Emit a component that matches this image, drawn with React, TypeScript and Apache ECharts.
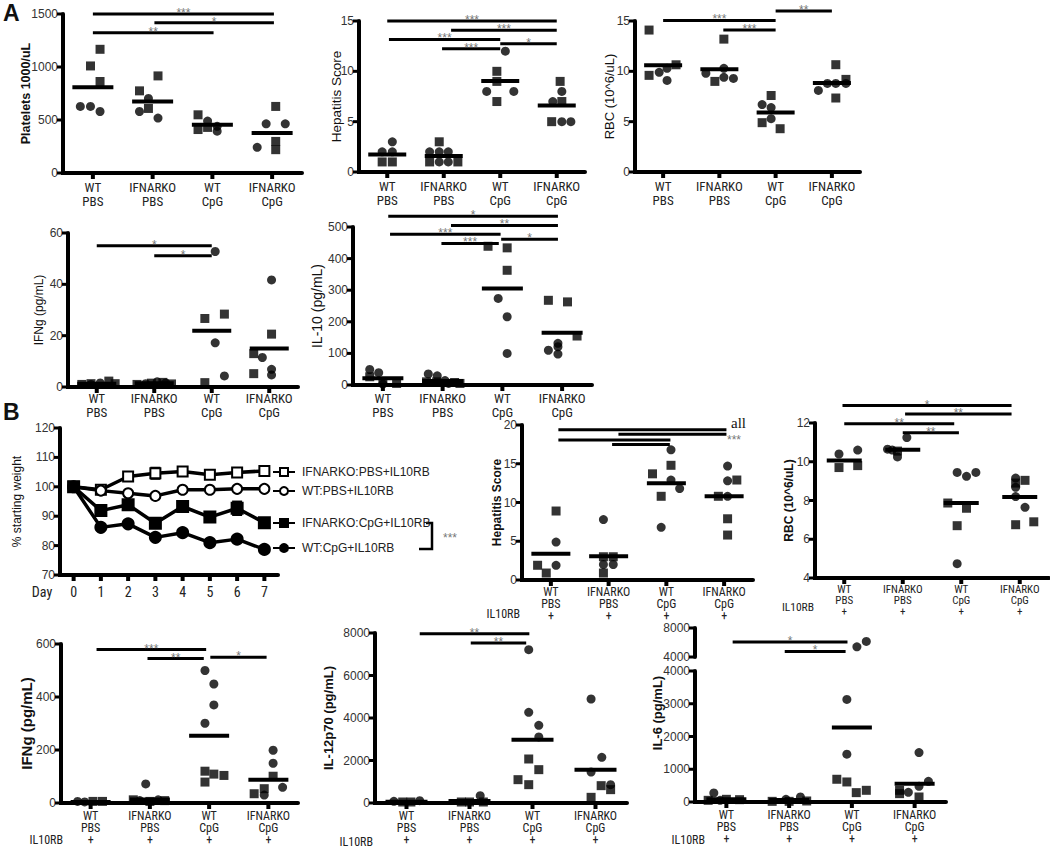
import React, { useEffect, useRef } from "react";
import * as echarts from "echarts";

// ---------------- categories / tick labels ----------------
const groupLabels = ["WT\nPBS", "IFNARKO\nPBS", "WT\nCpG", "IFNARKO\nCpG"];
const groupLabelsRB = ["WT\nPBS\n+", "IFNARKO\nPBS\n+", "WT\nCpG\n+", "IFNARKO\nCpG\n+"];
const dayLabels = ["0", "1", "2", "3", "4", "5", "6", "7"];

// ---------------- data: [group, jitter, value] ----------------
// A: Platelets
const plateletsCircles = [[0, -0.21, 628], [0, -0.04, 628], [0, 0.12, 580], [1, -0.07, 703], [1, -0.22, 580], [1, 0.09, 518], [2, -0.08, 490], [2, 0.08, 440], [2, 0.08, 395], [3, -0.1, 464], [3, 0.22, 464], [3, -0.25, 242]];
const plateletsSquares = [[0, 0.12, 1167], [0, -0.04, 1010], [0, 0.12, 863], [1, 0.09, 916], [1, -0.22, 775], [1, -0.07, 609], [2, -0.24, 549], [2, -0.24, 410], [2, -0.08, 430], [3, 0.06, 628], [3, 0.06, 298], [3, 0.06, 220]];
const plateletsMeans = [810, 675, 455, 377];
const plateletsSig = [[0, 3.03, 1500, "***"], [1.03, 3.03, 1418, "*"], [0, 2.02, 1324, "**"]];

// A: Hepatitis score
const hepCircles = [[0, 0.09, 3], [0, -0.09, 2], [0, 0.09, 2], [1, -0.25, 2], [1, -0.08, 2], [1, 0.08, 2], [1, -0.08, 1], [1, 0.08, 1], [2, 0.09, 12], [2, -0.24, 8], [2, 0.24, 8], [3, 0.09, 8], [3, -0.07, 7], [3, 0.09, 5], [3, 0.25, 5]];
const hepSquares = [[0, -0.09, 1], [0, 0.09, 1], [1, -0.08, 3], [1, -0.25, 1], [1, 0.25, 1], [2, -0.06, 10], [2, -0.06, 9], [2, -0.06, 7], [3, 0.06, 9], [3, 0.09, 7], [3, -0.09, 5]];
const hepMeans = [1.75, 1.6, 9.05, 6.6];
const hepSig = [[0, 3, 15, "***"], [1.13, 3, 14.07, "***"], [0.03, 2, 13.17, "***"], [2, 3, 12.74, "*"], [0.97, 2, 12.25, "***"]];

// A: RBC
const rbcCircles = [[0, -0.07, 9.9], [0, 0.07, 10.3], [0, 0.07, 9.1], [1, -0.24, 9.8], [1, 0.08, 10.3], [1, 0.08, 9.4], [1, 0.25, 9.3], [2, -0.24, 6.7], [2, -0.08, 6.4], [2, -0.08, 5.3], [3, -0.24, 8.1], [3, -0.08, 8.8], [3, 0.07, 8.8], [3, 0.25, 8.8]];
const rbcSquares = [[0, -0.25, 14.1], [0, -0.25, 9.6], [0, 0.23, 10.65], [1, 0.08, 13.2], [1, -0.08, 9.0], [2, -0.08, 7.6], [2, -0.24, 4.9], [2, 0.08, 4.3], [3, 0.07, 10.66], [3, 0.25, 9.2], [3, 0.07, 7.35]];
const rbcMeans = [10.6, 10.2, 5.9, 8.85];
const rbcSig = [[0, 2, 15.06, "***"], [1.07, 2, 14.1, "***"], [2, 3, 16, "**"]];

// A: IFNg
const ifngCircles = [[0, 0.06, 1.6], [0, -0.1, 1.0], [1, -0.15, 1.3], [1, 0.05, 2.0], [1, 0.2, 1.6], [2, 0.06, 52.8], [2, 0.06, 17.2], [2, 0.22, 4.3], [3, 0.04, 41.7], [3, -0.12, 11.5], [3, 0.04, 6.9], [3, 0.04, 4.7]];
const ifngSquares = [[0, -0.26, 1.0], [0, -0.1, 1.3], [0, 0.21, 2.3], [0, 0.32, 1.3], [1, -0.3, 1.0], [1, -0.05, 1.5], [1, 0.15, 1.8], [1, 0.3, 1.2], [2, -0.12, 26.7], [2, 0.22, 28.4], [2, -0.12, 1.7], [3, 0.04, 20.6], [3, -0.27, 13.0], [3, -0.27, 5.2]];
const ifngMeans = [1.3, 1.5, 21.9, 15.0];
const ifngSig = [[0, 2, 55, "*"], [1, 2, 51.1, "*"]];

// A: IL-10
const il10Circles = [[0, -0.22, 49], [0, -0.07, 39], [0, 0, 3], [1, -0.24, 35], [1, -0.09, 29], [1, 0.04, 14], [1, 0.1, 5], [2, -0.07, 274], [2, 0.08, 216], [2, 0.08, 100], [3, -0.23, 110], [3, -0.07, 132], [3, -0.07, 121], [3, -0.07, 98]];
const il10Squares = [[0, -0.22, 26], [0, 0, 8], [0, 0.23, 5], [1, -0.27, 10], [1, -0.1, 10], [1, 0.2, 8], [1, 0.29, 5], [2, -0.24, 439], [2, 0.08, 434], [2, 0.08, 363], [3, -0.23, 268], [3, 0.09, 263], [3, 0.25, 155]];
const il10Means = [21, 12.6, 305, 165];
const il10Sig = [[0.09, 2.93, 534, "*"], [1.14, 2.93, 505, "**"], [0.12, 1.97, 477, "***"], [1.98, 2.93, 461, "*"], [0.98, 1.94, 448, "***"]];

// B: weight over days
const weightNames = ["IFNARKO:PBS+IL10RB", "WT:PBS+IL10RB", "IFNARKO:CpG+IL10RB", "WT:CpG+IL10RB"];
const ifnarkoPbsWeight = [100, 99.0, 103.5, 104.6, 105.2, 104.1, 104.9, 105.4];
const wtPbsWeight = [100, 98.7, 97.8, 96.9, 99.0, 99.0, 99.3, 99.3];
const ifnarkoCpgWeight = [100, 91.9, 93.9, 87.6, 93.3, 89.7, 92.7, 87.8];
const wtCpgWeight = [100, 86.2, 87.4, 82.8, 84.4, 81.0, 82.2, 78.7];
const ifnarkoPbsErr = [0.5, 0.8, 1.0, 1.8, 1.0, 1.0, 1.2, 1.0];
const wtPbsErr = [0.3, 0.5, 0.6, 0.6, 0.6, 0.5, 0.5, 0.6];
const ifnarkoCpgErr = [0.3, 0.8, 1.0, 1.0, 1.0, 1.0, 2.2, 0.8];
const wtCpgErr = [0.3, 0.5, 0.5, 0.6, 0.6, 0.6, 0.6, 0.6];

// B: Hepatitis score + IL10RB
const hepRbCircles = [[0, 0.09, 4.9], [0, 0.09, 1.9], [1, -0.09, 7.8], [1, -0.09, 2.0], [1, 0.08, 2.0], [2, 0.08, 16.8], [2, 0.08, 12.9], [2, 0.23, 11.8], [2, -0.09, 6.8], [3, 0.06, 14.7], [3, 0.06, 12.8], [3, 0.06, 10.8]];
const hepRbSquares = [[0, 0.09, 8.9], [0, -0.23, 1.9], [0, -0.08, 0.9], [1, -0.09, 3.0], [1, 0.08, 3.0], [1, -0.09, 0.9], [2, 0.08, 14.8], [2, -0.24, 13.7], [2, -0.09, 10.8], [3, 0.22, 12.9], [3, -0.1, 10.8], [3, 0.06, 7.9], [3, 0.06, 5.8]];
const hepRbMeans = [3.4, 3.07, 12.5, 10.8];
const hepRbSig = [[0.13, 3.04, 19.4, ""], [1.17, 3.04, 18.8, ""], [0.13, 2.07, 18.06, ""], [1.06, 2.06, 17.5, ""]];

// B: RBC + IL10RB
const rbcRbCircles = [[0, -0.09, 10.4], [0, 0.23, 10.6], [1, 0.07, 11.25], [1, -0.26, 10.65], [1, -0.18, 10.6], [1, -0.09, 10.25], [2, -0.07, 9.45], [2, 0.09, 9.25], [2, 0.25, 9.45], [2, -0.07, 4.74], [3, -0.07, 9.16], [3, -0.07, 8.68], [3, -0.07, 8.2], [3, 0.09, 7.65]];
const rbcRbSquares = [[0, -0.09, 9.7], [0, 0.23, 9.8], [1, -0.09, 10.55], [2, -0.23, 7.87], [2, 0.09, 7.6], [2, -0.07, 6.7], [3, -0.07, 8.9], [3, 0.09, 9.04], [3, -0.07, 6.75], [3, 0.24, 6.9]];
const rbcRbMeans = [10.07, 10.62, 7.87, 8.18];
const rbcRbSig = [[-0.03, 2.86, 12.9, "*"], [1.04, 2.86, 12.46, "**"], [0, 1.88, 11.96, "**"], [1, 1.96, 11.5, "**"]];

// B: IFNg + IL10RB
const ifngRbCircles = [[0, -0.22, 6], [0, -0.1, 4], [1, -0.07, 72], [1, -0.17, 9], [1, 0.14, 12], [2, -0.07, 500], [2, 0.08, 449], [2, 0.08, 370], [2, -0.07, 301], [3, 0.08, 199], [3, 0.08, 150], [3, 0.24, 59], [3, -0.07, 30]];
const ifngRbSquares = [[0, 0.04, 6], [0, 0.2, 6], [1, -0.28, 12], [1, 0, 6], [1, 0.25, 9], [2, -0.07, 120], [2, 0.08, 109], [2, 0.25, 104], [2, -0.07, 79], [3, 0.08, 101], [3, -0.07, 54], [3, -0.24, 35]];
const ifngRbMeans = [4, 13, 254, 88];
const ifngRbSig = [[0.1, 1.95, 579, "***"], [0.96, 1.91, 545, "**"], [2.02, 2.97, 550, "*"]];

// B: IL-12p70 + IL10RB
const il12Circles = [[0, -0.2, 80], [0, 0.21, 110], [1, 0.17, 345], [2, -0.06, 7217], [2, -0.06, 4268], [2, 0.1, 3656], [2, 0.1, 3107], [3, -0.07, 4895], [3, 0.1, 2150], [3, -0.07, 1459], [3, 0.24, 863]];
const il12Squares = [[0, -0.06, 47], [0, 0.07, 47], [1, -0.13, 47], [1, 0, 47], [1, 0.22, 47], [2, -0.06, 2071], [2, 0.1, 1569], [2, -0.23, 1098], [2, -0.06, 863], [3, 0.09, 816], [3, 0.24, 628], [3, -0.07, 267]];
const il12Means = [60, 100, 2981, 1569];
const il12Sig = [[0.21, 1.95, 7970, "**"], [1.02, 1.9, 7531, "**"]];

// B: IL-6 + IL10RB (broken axis at 4000)
const il6Circles = [[0, -0.2, 275], [0, -0.1, 51], [1, -0.05, 82], [1, 0.18, 153], [2, 0.08, 5400], [2, 0.23, 6150], [2, -0.08, 3131], [2, -0.08, 1459], [3, 0.07, 1510], [3, 0.22, 632], [3, 0.07, 480], [3, -0.1, 296]];
const il6Squares = [[0, -0.29, 51], [0, 0, 82], [0, 0.21, 71], [1, -0.27, 20], [1, 0, 20], [1, 0.28, 31], [2, -0.24, 694], [2, -0.08, 612], [2, 0.23, 357], [2, 0.07, 286], [3, -0.24, 357], [3, -0.24, 255], [3, 0.07, 153]];
const il6Means = [82, 60, 2275, 561];
const il6Sig = [[0.1, 1.93, 6069, "*"], [0.93, 1.9, 4772, "*"]];
const il6Break = 4000;

// ---------------- styling ----------------
const FONT = "'Liberation Sans', Arial, Helvetica, sans-serif";
const NARROW = "'Liberation Sans Narrow', 'Roboto Condensed', Roboto, sans-serif";
const SERIF = "'Liberation Serif', 'DejaVu Serif', serif";

type Frame = { box: number[]; yMin: number; yMax: number; yTicks: number[]; xTicks: number[]; xRange: number[]; drawX: boolean };

// thick axis frame + ticks drawn as decoration on each panel's grid rectangle
function frameGraphics(f: Frame) {
  const [left, top, width, height] = f.box;
  const bottom = top + height;
  const els: any[] = [];
  const rect = (x: number, y: number, w: number, h: number) =>
    els.push({ type: "rect", silent: true, z: 100, shape: { x, y, width: w, height: h }, style: { fill: "#000" } });
  rect(left - 2, top, 4, height + (f.drawX ? 2 : 0));
  if (f.drawX) rect(left - 2, bottom - 2, width + 2, 4);
  f.yTicks.forEach((t) => {
    const yy = top + ((f.yMax - t) / (f.yMax - f.yMin)) * height;
    rect(left - 6, yy - 1.5, 5, 3);
  });
  f.xTicks.forEach((t) => {
    const xx = left + ((t - f.xRange[0]) / (f.xRange[1] - f.xRange[0])) * width;
    rect(xx - 2, bottom, 4, 6);
  });
  return els;
}

function buildOption() {
  const grid: any[] = [];
  const xAxis: any[] = [];
  const yAxis: any[] = [];
  const series: any[] = [];
  const frames: Frame[] = [];

  const addGrid = (l: number, t: number, w: number, h: number) => {
    grid.push({ left: l, top: t, width: w, height: h, containLabel: false });
    return grid.length - 1;
  };
  // one value x-axis per grid; group labels sit at the integer positions
  const addGroupX = (gi: number, cats: string[] | null, margin = 8, fontSize = 12, lineH = 12) => {
    xAxis.push({
      type: "value", gridIndex: gi, min: -0.5, max: 3.5, position: "bottom",
      axisLine: { show: !!cats, onZero: false, lineStyle: { color: "#000", width: 4 } },
      axisTick: { show: false },
      splitLine: { show: false },
      axisLabel: cats
        ? { show: true, customValues: [0, 1, 2, 3], formatter: (v: number) => cats[Math.round(v)] ?? "", margin,
            fontFamily: NARROW, fontSize, lineHeight: lineH, color: "#222" }
        : { show: false },
    });
    return xAxis.length - 1;
  };
  const addY = (gi: number, min: number, max: number, step: number, extra: any = {}) => {
    yAxis.push({
      type: "value", gridIndex: gi, min, max, interval: step,
      axisLine: { show: true, onZero: false, lineStyle: { color: "#000", width: 4 } },
      axisTick: { show: false },
      axisLabel: { fontFamily: FONT, fontSize: 12, color: "#333", margin: 5, formatter: (v: number) => String(v) },
      splitLine: { show: false },
      ...extra,
    });
    return yAxis.length - 1;
  };
  const ticksOf = (min: number, max: number, step: number) => {
    const out: number[] = [];
    for (let v = min; v <= max + 1e-9; v += step) out.push(v);
    return out;
  };
  const yName = (name: string, size: number, bold: boolean, gap: number) => ({
    name, nameLocation: "middle", nameGap: gap, nameMoveOverlap: false,
    nameTextStyle: { fontFamily: FONT, fontSize: size, fontWeight: bold ? "bold" : "normal", color: "#111" },
  });
  const pts = (arr: number[][]) => arr.map((p) => [p[0] + p[1], p[2]]);
  const scatter = (xi: number, yi: number, symbol: string, size: any, data: number[][]) => ({
    type: "scatter", xAxisIndex: xi, yAxisIndex: yi, symbol, symbolSize: size,
    itemStyle: { color: "#000" }, data, clip: false, silent: true, z: 3,
  });
  // group mean: a short horizontal bar centred on the group position
  const meanSeries = (xi: number, yi: number, means: number[], w: number) => ({
    type: "custom", xAxisIndex: xi, yAxisIndex: yi, clip: false, silent: true, z: 4,
    data: means.map((m, i) => [i, m]),
    renderItem: (_params: any, api: any) => {
      const c = api.coord([api.value(0), api.value(1)]);
      return { type: "rect", shape: { x: c[0] - w / 2, y: c[1] - 2, width: w, height: 4 }, style: { fill: "#000" } };
    },
  });
  const sigSeries = (xi: number, yi: number, sig: any[][]) => ({
    type: "custom", xAxisIndex: xi, yAxisIndex: yi, clip: false, silent: true, z: 4,
    data: sig.map((s) => [s[0], s[1], s[2]]),
    renderItem: (params: any, api: any) => {
      const a = api.coord([api.value(0), api.value(2)]);
      const b = api.coord([api.value(1), api.value(2)]);
      const stars = String(sig[params.dataIndex][3] || "");
      const children: any[] = [
        { type: "line", shape: { x1: a[0], y1: a[1], x2: b[0], y2: b[1] }, style: { stroke: "#000", lineWidth: 3 } },
      ];
      if (stars) {
        children.push({
          type: "text", x: (a[0] + b[0]) / 2, y: a[1] - 1,
          style: { text: stars, fill: "#777", font: `12px ${FONT}`, align: "center", verticalAlign: "middle" },
        });
      }
      return { type: "group", children };
    },
  });

  const dotPanel = (p: any) => {
    const gi = addGrid(p.box[0], p.box[1], p.box[2], p.box[3]);
    const vx = addGroupX(gi, p.cats, p.margin, p.labelSize, p.lineH);
    const yi = addY(gi, p.min, p.max, p.step, yName(p.title, p.titleSize, p.bold, p.gap));
    frames.push({ box: p.box, yMin: p.min, yMax: p.max, yTicks: ticksOf(p.min, p.max, p.step), xTicks: [0, 1, 2, 3], xRange: [-0.5, 3.5], drawX: true });
    series.push(scatter(vx, yi, "circle", 9, pts(p.circles)));
    series.push(scatter(vx, yi, "rect", 9, pts(p.squares)));
    series.push(meanSeries(vx, yi, p.means, p.meanW));
    series.push(sigSeries(vx, yi, p.sig));
  };

  // ----- Row A1 -----
  dotPanel({ box: [63, 14, 239, 159], cats: groupLabels, margin: 8, labelSize: 13, lineH: 13.5, min: 0, max: 1500, step: 500,
    title: "Platelets 1000/uL", titleSize: 12.5, bold: true, gap: 31, circles: plateletsCircles, squares: plateletsSquares,
    means: plateletsMeans, meanW: 41, sig: plateletsSig });
  dotPanel({ box: [359, 21, 226, 151], cats: groupLabels, margin: 8, labelSize: 13, lineH: 13.5, min: 0, max: 15, step: 5,
    title: "Hepatitis Score", titleSize: 13.5, bold: false, gap: 16, circles: hepCircles, squares: hepSquares,
    means: hepMeans, meanW: 38, sig: hepSig });
  dotPanel({ box: [635, 21, 225, 151], cats: groupLabels, margin: 8, labelSize: 13, lineH: 13.5, min: 0, max: 15, step: 5,
    title: "RBC (10^6/uL)", titleSize: 13, bold: false, gap: 19, circles: rbcCircles, squares: rbcSquares,
    means: rbcMeans, meanW: 38, sig: rbcSig });
  // ----- Row A2 -----
  dotPanel({ box: [68, 233, 230, 154], cats: groupLabels, margin: 5, labelSize: 13, lineH: 13.5, min: 0, max: 60, step: 20,
    title: "IFNg (pg/mL)", titleSize: 12, bold: false, gap: 23, circles: ifngCircles, squares: ifngSquares,
    means: ifngMeans, meanW: 39, sig: ifngSig });
  dotPanel({ box: [353, 227, 239, 158], cats: groupLabels, margin: 7, labelSize: 13, lineH: 13.5, min: 0, max: 500, step: 100,
    title: "IL-10 (pg/mL)", titleSize: 14, bold: false, gap: 29, circles: il10Circles, squares: il10Squares,
    means: il10Means, meanW: 41, sig: il10Sig });

  // ----- Row B1: weight -----
  {
    const box = [60, 428, 218, 147];
    const gi = addGrid(box[0], box[1], box[2], box[3]);
    xAxis.push({
      type: "category", gridIndex: gi, position: "bottom", data: dayLabels, boundaryGap: true,
      axisLine: { show: true, onZero: false, lineStyle: { color: "#000", width: 4 } },
      axisTick: { show: false },
      axisLabel: { margin: 10, fontFamily: NARROW, fontSize: 14, color: "#222", interval: 0 },
      splitLine: { show: false },
    });
    const xi = xAxis.length - 1;
    const yi = addY(gi, 70, 120, 10, yName("% starting weight", 12, false, 37));
    frames.push({ box, yMin: 70, yMax: 120, yTicks: ticksOf(70, 120, 10), xTicks: [0, 1, 2, 3, 4, 5, 6, 7], xRange: [-0.5, 7.5], drawX: true });
    const weights = [ifnarkoPbsWeight, wtPbsWeight, ifnarkoCpgWeight, wtCpgWeight];
    const errs = [ifnarkoPbsErr, wtPbsErr, ifnarkoCpgErr, wtCpgErr];
    const symbols = ["emptyRect", "emptyCircle", "rect", "circle"];
    weights.forEach((w, k) => {
      const err = errs[k];
      series.push({
        type: "custom", xAxisIndex: xi, yAxisIndex: yi, silent: true, clip: false, z: 1,
        data: w.map((v, i) => [i, v - err[i], v + err[i]]),
        renderItem: (params: any, api: any) => {
          const lo = api.coord([api.value(0), api.value(1)]);
          const hi = api.coord([api.value(0), api.value(2)]);
          return { type: "group", children: [
            { type: "line", shape: { x1: lo[0], y1: lo[1], x2: hi[0], y2: hi[1] }, style: { stroke: "#000", lineWidth: 2.5 } },
            { type: "line", shape: { x1: lo[0] - 5, y1: lo[1], x2: lo[0] + 5, y2: lo[1] }, style: { stroke: "#000", lineWidth: 2.5 } },
            { type: "line", shape: { x1: hi[0] - 5, y1: hi[1], x2: hi[0] + 5, y2: hi[1] }, style: { stroke: "#000", lineWidth: 2.5 } },
          ] };
        },
      });
      series.push({
        type: "line", name: weightNames[k], xAxisIndex: xi, yAxisIndex: yi, data: w,
        symbol: symbols[k], symbolSize: 10, showAllSymbol: true, z: 3,
        lineStyle: { color: "#000", width: 3.5 },
        itemStyle: { color: "#000", borderColor: "#000", borderWidth: 3 },
      });
    });
  }

  // ----- Row B1: hepatitis + RBC -----
  dotPanel({ box: [522, 425, 231, 155], cats: groupLabelsRB, margin: 6, labelSize: 12, lineH: 12, min: 0, max: 20, step: 5,
    title: "Hepatitis Score", titleSize: 12, bold: true, gap: 19, circles: hepRbCircles, squares: hepRbSquares,
    means: hepRbMeans, meanW: 39, sig: hepRbSig });
  dotPanel({ box: [815, 423, 234, 155], cats: groupLabelsRB, margin: 6, labelSize: 11, lineH: 11, min: 4, max: 12, step: 2,
    title: "RBC (10^6/uL)", titleSize: 12, bold: true, gap: 20, circles: rbcRbCircles, squares: rbcRbSquares,
    means: rbcRbMeans, meanW: 35, sig: rbcRbSig });

  // ----- Row B2 -----
  dotPanel({ box: [61, 644, 237, 159], cats: groupLabelsRB, margin: 7, labelSize: 12, lineH: 12, min: 0, max: 600, step: 200,
    title: "IFNg (pg/mL)", titleSize: 15, bold: true, gap: 27, circles: ifngRbCircles, squares: ifngRbSquares,
    means: ifngRbMeans, meanW: 40, sig: ifngRbSig });
  dotPanel({ box: [375, 633, 252, 170], cats: groupLabelsRB, margin: 7, labelSize: 12, lineH: 12, min: 0, max: 8000, step: 2000,
    title: "IL-12p70 (pg/mL)", titleSize: 13, bold: true, gap: 40, circles: il12Circles, squares: il12Squares,
    means: il12Means, meanW: 42, sig: il12Sig });

  // IL-6 broken axis
  {
    const boxU = [695, 628, 251, 29];
    const gu = addGrid(boxU[0], boxU[1], boxU[2], boxU[3]);
    const vxu = addGroupX(gu, null);
    const yu = addY(gu, il6Break, 8000, 4000);
    frames.push({ box: boxU, yMin: il6Break, yMax: 8000, yTicks: [il6Break, 8000], xTicks: [], xRange: [-0.5, 3.5], drawX: false });
    series.push(scatter(vxu, yu, "circle", 9, pts(il6Circles.filter((p) => p[2] > il6Break))));
    series.push(scatter(vxu, yu, "rect", 9, pts(il6Squares.filter((p) => p[2] > il6Break))));
    series.push(sigSeries(vxu, yu, il6Sig));
    const boxL = [695, 671, 251, 131];
    const gl = addGrid(boxL[0], boxL[1], boxL[2], boxL[3]);
    const vxl = addGroupX(gl, groupLabelsRB, 7, 12, 12);
    const yl = addY(gl, 0, il6Break, 1000);
    frames.push({ box: boxL, yMin: 0, yMax: il6Break, yTicks: ticksOf(0, il6Break, 1000), xTicks: [0, 1, 2, 3], xRange: [-0.5, 3.5], drawX: true });
    series.push(scatter(vxl, yl, "circle", 9, pts(il6Circles.filter((p) => p[2] <= il6Break))));
    series.push(scatter(vxl, yl, "rect", 9, pts(il6Squares.filter((p) => p[2] <= il6Break))));
    series.push(meanSeries(vxl, yl, il6Means, 40));
  }

  const legendTops = [466, 485, 517, 542];
  const legend = weightNames.map((n, i) => ({
    data: [n], left: 272, top: legendTops[i], padding: 0, itemWidth: 22, itemHeight: 10, itemGap: 0,
    selectedMode: false, textStyle: { fontFamily: FONT, fontSize: 12, color: "#222", padding: [0, 0, 0, 2] },
  }));

  const txt = (text: string, x: number, y: number, font: string, extra: any = {}) => ({
    type: "text", x, y, silent: true,
    style: { text, font, fill: "#111", align: "left", verticalAlign: "middle", ...extra },
  });
  const graphic: any[] = [
    ...frames.flatMap((f) => frameGraphics(f)),
    txt("A", 3, 13, `bold 23px ${FONT}`),
    txt("B", 3, 412, `bold 23px ${FONT}`),
    txt("Day", 42, 592, `14px ${NARROW}`, { align: "center", fill: "#222" }),
    txt("IL10RB", 520, 614, `12px ${NARROW}`, { align: "right", fill: "#222" }),
    txt("IL10RB", 814, 607, `11.5px ${NARROW}`, { align: "right", fill: "#222" }),
    txt("IL10RB", 63, 840, `12px ${NARROW}`, { align: "right", fill: "#222" }),
    txt("IL10RB", 373, 842, `12px ${NARROW}`, { align: "right", fill: "#222" }),
    txt("IL10RB", 705, 840, `12px ${NARROW}`, { align: "right", fill: "#222" }),
    txt("all", 731, 423, `15px ${SERIF}`),
    txt("***", 727, 440, `12px ${FONT}`, { fill: "#777" }),
    txt("***", 443, 538, `12px ${FONT}`, { fill: "#777" }),
    {
      type: "polyline", silent: true,
      shape: { points: [[426, 523], [432, 523], [432, 549], [419, 549]] },
      style: { stroke: "#000", lineWidth: 2.5, fill: null },
    },
    {
      type: "text", x: 657, y: 713, rotation: Math.PI / 2, silent: true,
      style: { text: "IL-6 (pg/mL)", font: `bold 13px ${FONT}`, fill: "#111", align: "center", verticalAlign: "middle" },
    },
  ];

  return { animation: false, backgroundColor: "#fff", grid, xAxis, yAxis, series, legend, graphic };
}

export default function App() {
  const ref = useRef<HTMLDivElement>(null);
  useEffect(() => {
    document.body.style.margin = "0";
    if (!ref.current) return;
    const chart = echarts.init(ref.current, undefined, { renderer: "svg" });
    chart.setOption(buildOption() as any);
    return () => chart.dispose();
  }, []);
  return <div ref={ref} style={{ width: 1050, height: 849 }} />;
}
